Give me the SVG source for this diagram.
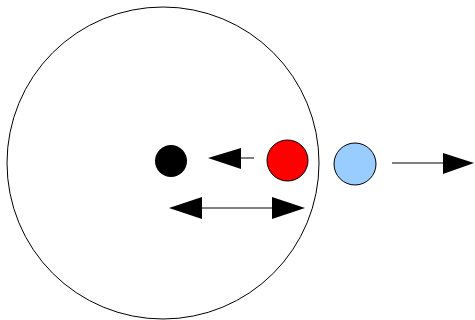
<svg xmlns="http://www.w3.org/2000/svg" width="475" height="320" viewBox="0 0 475 320">
<style>
.ln{stroke:#000;stroke-width:1;fill:none}
.hd{fill:#000;stroke:none}
</style>
<rect width="475" height="320" fill="#fff"/>
<g id="big-circle"><circle cx="163" cy="163" r="156" fill="#fff" stroke="#000" stroke-width="1"/></g>
<g id="black-dot"><circle cx="171" cy="161" r="16" fill="#000"/></g>
<g id="red-dot"><circle cx="287.5" cy="160.5" r="20.5" fill="#ff0000" stroke="#000" stroke-width="1"/></g>
<g id="blue-dot"><circle cx="355" cy="164" r="21" fill="#99ccff" stroke="#000" stroke-width="1"/></g>
<g id="connectors">
<line class="ln" x1="240" y1="158" x2="254" y2="158"/>
<polygon class="hd" points="208,158 241,148 241,169"/>
<line class="ln" x1="201" y1="208" x2="273" y2="208"/>
<polygon class="hd" points="169,208 202,197 202,219"/>
<polygon class="hd" points="305,208 272,197 272,219"/>
<line class="ln" x1="392" y1="163" x2="444" y2="163"/>
<polygon class="hd" points="474,163 443,153 443,174"/>
</g>
</svg>
